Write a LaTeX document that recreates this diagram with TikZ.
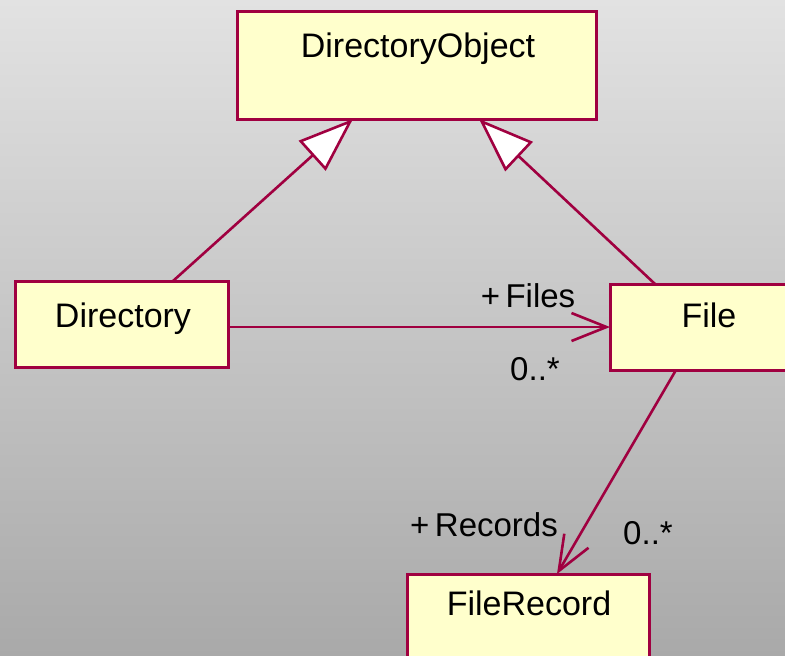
\documentclass[tikz,border=0pt]{standalone}
\usepackage{fontspec}
\setmainfont{Liberation Sans}
\usetikzlibrary{arrows.meta,calc}
\definecolor{edge}{HTML}{A00040}
\definecolor{boxfill}{HTML}{FFFFCC}
\definecolor{bgtop}{HTML}{E2E2E2}
\definecolor{bgbot}{HTML}{A9A9A9}
\tikzset{
  classbox/.style={draw=edge, fill=boxfill, line width=3pt, rectangle, inner sep=0pt, outer sep=0pt, anchor=north west},
  classtext/.style={anchor=base, inner sep=0pt, font=\fontsize{34}{40}\selectfont},
  assoclabel/.style={anchor=base, inner sep=0pt, font=\fontsize{33}{40}\selectfont},
  conn/.style={draw=edge, line width=2.6pt},
  gen/.style={conn, -{Triangle[open, length=55pt, width=40pt, fill=white, line width=2.6pt]}},
  nav/.style={conn, -{Straight Barb[length=35pt, width=28pt, line width=2.6pt]}}
}
\begin{document}
\begin{tikzpicture}[x=1pt,y=-1pt]
\useasboundingbox (0,0) rectangle (785,656);
\clip (0,0) rectangle (785,656);
\shade[top color=bgtop, bottom color=bgbot] (0,0) rectangle (785,656);
% boxes
\node[classbox, minimum width=359pt, minimum height=108pt] (dobj) at (237,11) {};
\node[classbox, minimum width=213pt, minimum height=86pt] (dir) at (15,281) {};
\node[classbox, minimum width=200pt, minimum height=86pt] (file) at (610,284) {};
\node[classbox, minimum width=242pt, minimum height=110pt] (frec) at (407,574) {};
% texts
\node[classtext] (tdobj) at (418,57) {DirectoryObject};
\node[classtext] (tdir) at (123,327) {Directory};
\node[classtext] (tfile) at (709,327) {File};
\node[classtext] (tfrec) at (529,615) {FileRecord};
% connectors
\coordinate (g1s) at ($(dir.north west)+(158,0)$);
\coordinate (g1e) at ($(dobj.south west)+(116,0)$);
\coordinate (g2s) at ($(file.north west)+(45,0)$);
\coordinate (g2e) at ($(dobj.south west)+(242,0)$);
\draw[gen] (g1s) -- (g1e);
\draw[gen] (g2s) -- (g2e);
\coordinate (a1s) at ($(dir.north east)+(0,46)$);
\coordinate (a1e) at ($(file.north west)+(0,43)$);
\draw[nav] (a1s) -- (a1e);
\coordinate (a2s) at ($(file.south west)+(66,0)$);
\coordinate (a2e) at ($(frec.north west)+(150,0)$);
\draw[nav] (a2s) -- (a2e);
% labels
\node[assoclabel] (lfiles) at (528,307) {+\,Files};
\node[assoclabel] (mfiles) at (535,380) {0..*};
\node[assoclabel] (lrec) at (484,536) {+\,Records};
\node[assoclabel] (mrec) at (648,544) {0..*};
\end{tikzpicture}
\end{document}
